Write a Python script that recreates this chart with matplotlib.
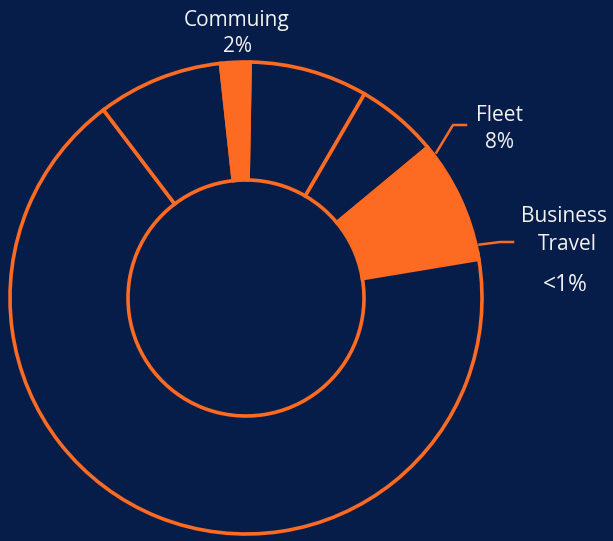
import numpy as np
import matplotlib.pyplot as plt

# Emission share by category, clockwise from 12 o'clock
categories = ['Other A', 'Other B', 'Fleet', 'Business Travel', 'Other C', 'Other D', 'Commuing']
shares = [8.1, 5.6, 8, 0.4, 67.3, 8.6, 2]
highlighted = ['Fleet', 'Business Travel', 'Commuing']

BG = '#071d49'
ORANGE = '#fd6a21'
TXT = '#f2f2f2'

W, H = 613, 541
CX, CY, R = 246, 298, 236   # donut centre / radius in pixels


def px(x, y):
    # pixel position -> data coordinates (radius 1 == R px)
    return (x - CX) / R, (CY - y) / R


fig = plt.figure(figsize=(W / 100, H / 100), dpi=100, facecolor=BG)
ax = fig.add_axes([0, 0, 1, 1])
ax.set_facecolor(BG)

colors = [ORANGE if c in highlighted else BG for c in categories]
wedges, _ = ax.pie(shares, colors=colors, startangle=89, counterclock=False,
                   radius=1, wedgeprops=dict(width=0.5, edgecolor=ORANGE, linewidth=2.6))

# pie() resets the limits, so fix them afterwards
ax.set_xlim(-CX / R, (W - CX) / R)
ax.set_ylim(-(H - CY) / R, CY / R)
ax.set_aspect('equal')
ax.axis('off')


def rim(deg, r=1.015):
    t = np.deg2rad(deg)
    return r * np.cos(t), r * np.sin(t)


fleet = wedges[categories.index('Fleet')]
bt = wedges[categories.index('Business Travel')]

# leader lines
a = rim(fleet.theta2 - 0.08 * (fleet.theta2 - fleet.theta1))
ax.plot([a[0], px(453, 125)[0], px(466, 125)[0]],
        [a[1], px(453, 125)[1], px(466, 125)[1]], color=ORANGE, lw=1.8)
b = rim(bt.theta2 + 2)
ax.plot([b[0], px(500, 242)[0], px(513, 242)[0]],
        [b[1], px(500, 242)[1], px(513, 242)[1]], color=ORANGE, lw=1.8)

fs = 15
kw = dict(color=TXT, fontsize=fs, ha='center', va='baseline', family='Open Sans')
ax.text(*px(237, 26), 'Commuing', **kw)
ax.text(*px(237, 52), '2%', **kw)
ax.text(*px(500, 121), 'Fleet', **kw)
ax.text(*px(500, 148), '8%', **kw)
ax.text(*px(564, 222), 'Business', **kw)
ax.text(*px(567, 250), 'Travel', **kw)
ax.text(*px(565, 291), '<1%', **{**kw, 'fontsize': 16.5})

fig.savefig('out.png', dpi=100, facecolor=BG)
